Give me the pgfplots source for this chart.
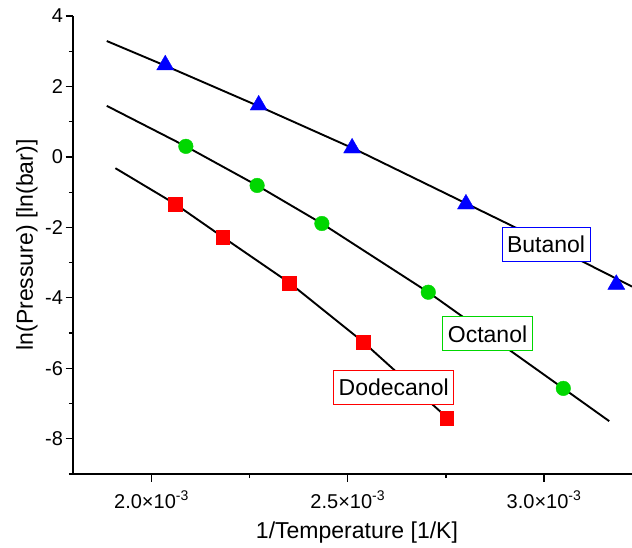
\documentclass[border=0pt]{standalone}
\usepackage{fontspec}
\setmainfont{Liberation Sans}
\usepackage{pgfplots}
\pgfplotsset{compat=1.18}
\definecolor{bu}{RGB}{0,0,255}
\definecolor{oc}{RGB}{0,215,0}
\definecolor{dd}{RGB}{255,0,0}
\tikzset{
  lbl/.style={line width=1bp, fill=white, inner xsep=5bp, minimum height=34bp,
              font=\fontsize{23bp}{27bp}\selectfont},
}
\begin{document}
\begin{tikzpicture}
\begin{axis}[
    scale only axis,
    width=559bp, height=458bp,
    xmin=0.0018, xmax=0.003224,
    ymin=-9, ymax=4,
    scaled x ticks=false,
    axis lines=left,
    axis line style={-, line width=1.3bp},
    tick align=outside,
    major tick length=7.5bp, minor tick length=4bp,
    tick style={line width=1.3bp, black},
    xtick={0.002,0.0025,0.003},
    xticklabels={2.0×10\textsuperscript{-3},2.5×10\textsuperscript{-3},3.0×10\textsuperscript{-3}},
    minor xtick={0.00225,0.00275},
    ytick={-8,-6,-4,-2,0,2,4},
    yticklabels={-8,-6,-4,-2,0,2,4},
    minor ytick={-9,-7,-5,-3,-1,1,3},
    ticklabel style={font=\fontsize{20bp}{24bp}\selectfont},
    xticklabel style={yshift=-6bp},
    yticklabel style={xshift=1bp},
    xlabel={1/Temperature [1/K]},
    ylabel={ln(Pressure) [ln(bar)]},
    every axis x label/.style={at={(axis description cs:0.508,-0.1288)}, anchor=center,
                               font=\fontsize{23bp}{27bp}\selectfont},
    every axis y label/.style={at={(axis description cs:-0.0823,0.5)}, rotate=90, anchor=center,
                               font=\fontsize{23bp}{27bp}\selectfont},
    clip=false,
]
% fitted curves
\addplot[black, line width=1.9bp] coordinates {
  (0.001886,3.29) (0.002035,2.59) (0.002273,1.44) (0.002522,0.20)
  (0.002930,-2.02) (0.003224,-3.68)
};
\addplot[black, line width=1.9bp] coordinates {
  (0.001886,1.45) (0.0020875,0.30) (0.002269,-0.81) (0.002434,-1.89)
  (0.002705,-3.84) (0.003049,-6.57) (0.003166,-7.50)
};
\addplot[black, line width=1.9bp] coordinates {
  (0.001908,-0.32) (0.002061,-1.34) (0.002181,-2.27) (0.002351,-3.57)
  (0.002540,-5.26) (0.002718,-7.05) (0.002752,-7.39)
};
% measured points
\addplot[only marks, mark=triangle*, mark size=9.8bp, bu, mark options={draw=none, fill=bu}] coordinates {
  (0.002035,2.61) (0.002273,1.47) (0.002511,0.25) (0.002801,-1.34) (0.003184,-3.62)
};
\addplot[only marks, mark=*, mark size=7.3bp, oc, mark options={draw=none, fill=oc}] coordinates {
  (0.0020875,0.30) (0.002269,-0.81) (0.002434,-1.89) (0.002705,-3.84) (0.003049,-6.57)
};
\addplot[only marks, mark=square*, mark size=6.8bp, dd, mark options={draw=none, fill=dd}] coordinates {
  (0.002061,-1.34) (0.002181,-2.27) (0.002350,-3.58) (0.002540,-5.26) (0.002752,-7.42)
};
\node[lbl, draw=bu] at (axis cs:0.003005,-2.49) {Butanol};
\node[lbl, draw=oc] at (axis cs:0.002856,-5.02) {Octanol};
\node[lbl, draw=dd] at (axis cs:0.002617,-6.54) {Dodecanol};
\end{axis}
\pgfresetboundingbox
\path (-73bp,-74bp) rectangle (559bp,474bp);
\end{tikzpicture}
\end{document}
